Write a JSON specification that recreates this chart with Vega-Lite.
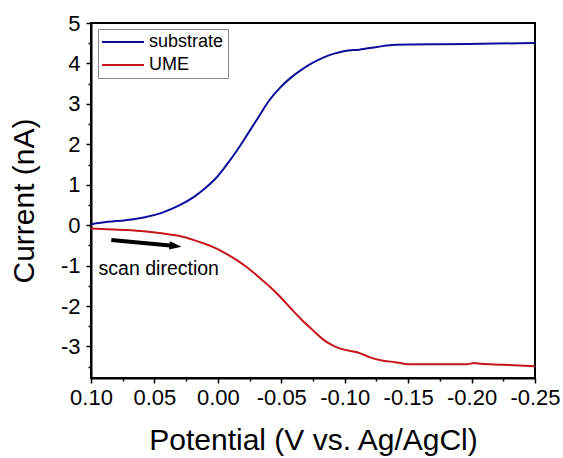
{
  "$schema": "https://vega.github.io/schema/vega-lite/v6.json",
  "width": 444,
  "height": 355,
  "padding": {"left": 91, "top": 23, "right": 28, "bottom": 80},
  "autosize": {"type": "none"},
  "background": "white",
  "config": {
    "font": "Liberation Sans",
    "view": {"stroke": "black", "strokeWidth": 2},
    "axis": {
      "domainColor": "black", "domainWidth": 2, "tickColor": "black", "tickWidth": 1.5,
      "labelColor": "black", "titleColor": "black", "grid": false,
      "labelFont": "Liberation Sans", "titleFont": "Liberation Sans",
      "labelFontSize": 22, "titleFontSize": 30, "titleFontWeight": "normal",
      "labelOverlap": false, "labelBound": false, "labelFlush": false
    }
  },
  "datasets": {
    "curves": [
      {"E": 0.100, "I": 0.025, "series": "substrate"},
      {"E": 0.0867, "I": 0.082, "series": "substrate"},
      {"E": 0.0726, "I": 0.124, "series": "substrate"},
      {"E": 0.0584, "I": 0.19, "series": "substrate"},
      {"E": 0.0443, "I": 0.305, "series": "substrate"},
      {"E": 0.0301, "I": 0.494, "series": "substrate"},
      {"E": 0.0188, "I": 0.70, "series": "substrate"},
      {"E": 0.0103, "I": 0.906, "series": "substrate"},
      {"E": 0.0018, "I": 1.153, "series": "substrate"},
      {"E": -0.0067, "I": 1.483, "series": "substrate"},
      {"E": -0.0152, "I": 1.853, "series": "substrate"},
      {"E": -0.0237, "I": 2.265, "series": "substrate"},
      {"E": -0.0321, "I": 2.677, "series": "substrate"},
      {"E": -0.0406, "I": 3.089, "series": "substrate"},
      {"E": -0.0491, "I": 3.402, "series": "substrate"},
      {"E": -0.0576, "I": 3.649, "series": "substrate"},
      {"E": -0.0661, "I": 3.847, "series": "substrate"},
      {"E": -0.0746, "I": 4.012, "series": "substrate"},
      {"E": -0.0831, "I": 4.143, "series": "substrate"},
      {"E": -0.0916, "I": 4.242, "series": "substrate"},
      {"E": -0.1001, "I": 4.308, "series": "substrate"},
      {"E": -0.1114, "I": 4.341, "series": "substrate"},
      {"E": -0.1255, "I": 4.407, "series": "substrate"},
      {"E": -0.1397, "I": 4.465, "series": "substrate"},
      {"E": -0.168, "I": 4.473, "series": "substrate"},
      {"E": -0.1963, "I": 4.481, "series": "substrate"},
      {"E": -0.25, "I": 4.506, "series": "substrate"},
      {"E": 0.100, "I": -0.08, "series": "UME"},
      {"E": 0.0867, "I": -0.10, "series": "UME"},
      {"E": 0.0726, "I": -0.12, "series": "UME"},
      {"E": 0.0584, "I": -0.15, "series": "UME"},
      {"E": 0.0443, "I": -0.20, "series": "UME"},
      {"E": 0.0301, "I": -0.27, "series": "UME"},
      {"E": 0.0188, "I": -0.37, "series": "UME"},
      {"E": 0.0103, "I": -0.46, "series": "UME"},
      {"E": 0.0018, "I": -0.57, "series": "UME"},
      {"E": -0.0067, "I": -0.71, "series": "UME"},
      {"E": -0.0152, "I": -0.87, "series": "UME"},
      {"E": -0.0237, "I": -1.06, "series": "UME"},
      {"E": -0.0321, "I": -1.28, "series": "UME"},
      {"E": -0.0406, "I": -1.51, "series": "UME"},
      {"E": -0.0491, "I": -1.77, "series": "UME"},
      {"E": -0.0576, "I": -2.06, "series": "UME"},
      {"E": -0.0661, "I": -2.34, "series": "UME"},
      {"E": -0.0746, "I": -2.59, "series": "UME"},
      {"E": -0.0831, "I": -2.83, "series": "UME"},
      {"E": -0.0916, "I": -2.99, "series": "UME"},
      {"E": -0.0972, "I": -3.06, "series": "UME"},
      {"E": -0.1057, "I": -3.12, "series": "UME"},
      {"E": -0.1114, "I": -3.16, "series": "UME"},
      {"E": -0.1199, "I": -3.27, "series": "UME"},
      {"E": -0.1284, "I": -3.34, "series": "UME"},
      {"E": -0.1397, "I": -3.39, "series": "UME"},
      {"E": -0.1510, "I": -3.44, "series": "UME"},
      {"E": -0.168, "I": -3.44, "series": "UME"},
      {"E": -0.1963, "I": -3.44, "series": "UME"},
      {"E": -0.2020, "I": -3.41, "series": "UME"},
      {"E": -0.2076, "I": -3.43, "series": "UME"},
      {"E": -0.2246, "I": -3.45, "series": "UME"},
      {"E": -0.25, "I": -3.49, "series": "UME"}
    ],
    "arrow": [
      {"E": 0.084, "I": -0.367},
      {"E": 0.0334, "I": -0.516}
    ],
    "head": [{"E": 0.0334, "I": -0.516}],
    "label": [{"E": 0.094, "I": -1.09, "text": "scan direction"}]
  },
  "encoding": {
    "x": {
      "field": "E", "type": "quantitative",
      "scale": {"domain": [-0.25, 0.10], "reverse": true, "nice": false, "zero": false},
      "axis": {
        "title": "Potential (V vs. Ag/AgCl)",
        "values": [0.1, 0.075, 0.05, 0.025, 0, -0.025, -0.05, -0.075, -0.1, -0.125, -0.15, -0.175, -0.2, -0.225, -0.25],
        "labelExpr": "abs(round(datum.value*20) - datum.value*20) < 0.001 ? replace(format(datum.value, '.2f'), '\u2212', '-') : ''",
        "tickSize": {"condition": {"test": "abs(round(datum.value*20) - datum.value*20) < 0.001", "value": 5}, "value": 3},
        "labelPadding": 4, "titlePadding": 17
      }
    },
    "y": {
      "field": "I", "type": "quantitative",
      "scale": {"domain": [-3.78, 5], "nice": false, "zero": false},
      "axis": {
        "title": "Current (nA)",
        "values": [-3.5, -3, -2.5, -2, -1.5, -1, -0.5, 0, 0.5, 1, 1.5, 2, 2.5, 3, 3.5, 4, 4.5, 5],
        "format": ".1f",
        "labelExpr": "abs(round(datum.value*2) - datum.value*2) < 0.001 && abs(round(datum.value) - datum.value) < 0.001 ? replace(format(datum.value, '.0f'), '\u2212', '-') : ''",
        "tickSize": {"condition": {"test": "abs(round(datum.value) - datum.value) < 0.001", "value": 5}, "value": 3},
        "labelPadding": 6, "titlePadding": 21
      }
    }
  },
  "layer": [
    {
      "data": {"name": "curves"},
      "mark": {"type": "line", "strokeWidth": 2, "clip": true, "interpolate": "monotone"},
      "encoding": {
        "color": {
          "field": "series", "type": "nominal",
          "scale": {"domain": ["substrate", "UME"], "range": ["#0d0d9c", "#c8141c"]},
          "legend": {
            "title": null, "orient": "none", "legendX": 7, "legendY": 6,
            "symbolType": "M-3,0H3", "symbolSize": 196, "symbolStrokeWidth": 2,
            "symbolOffset": 12,
            "labelFontSize": 18, "labelFont": "Liberation Sans", "labelColor": "black",
            "labelOffset": 17, "rowPadding": 5,
            "strokeColor": "#888", "padding": 4, "fillColor": "white"
          }
        }
      }
    },
    {
      "data": {"name": "arrow"},
      "mark": {"type": "line", "color": "black", "strokeWidth": 4}
    },
    {
      "data": {"name": "head"},
      "mark": {"type": "point", "shape": "M-1,-0.7L1,0L-1,0.7Z", "filled": true, "color": "black", "opacity": 1, "size": 144, "angle": 6}
    },
    {
      "data": {"name": "label"},
      "mark": {"type": "text", "align": "left", "baseline": "middle", "fontSize": 19.5, "font": "Liberation Sans", "color": "black"},
      "encoding": {
        "text": {"field": "text"}
      }
    }
  ]
}
